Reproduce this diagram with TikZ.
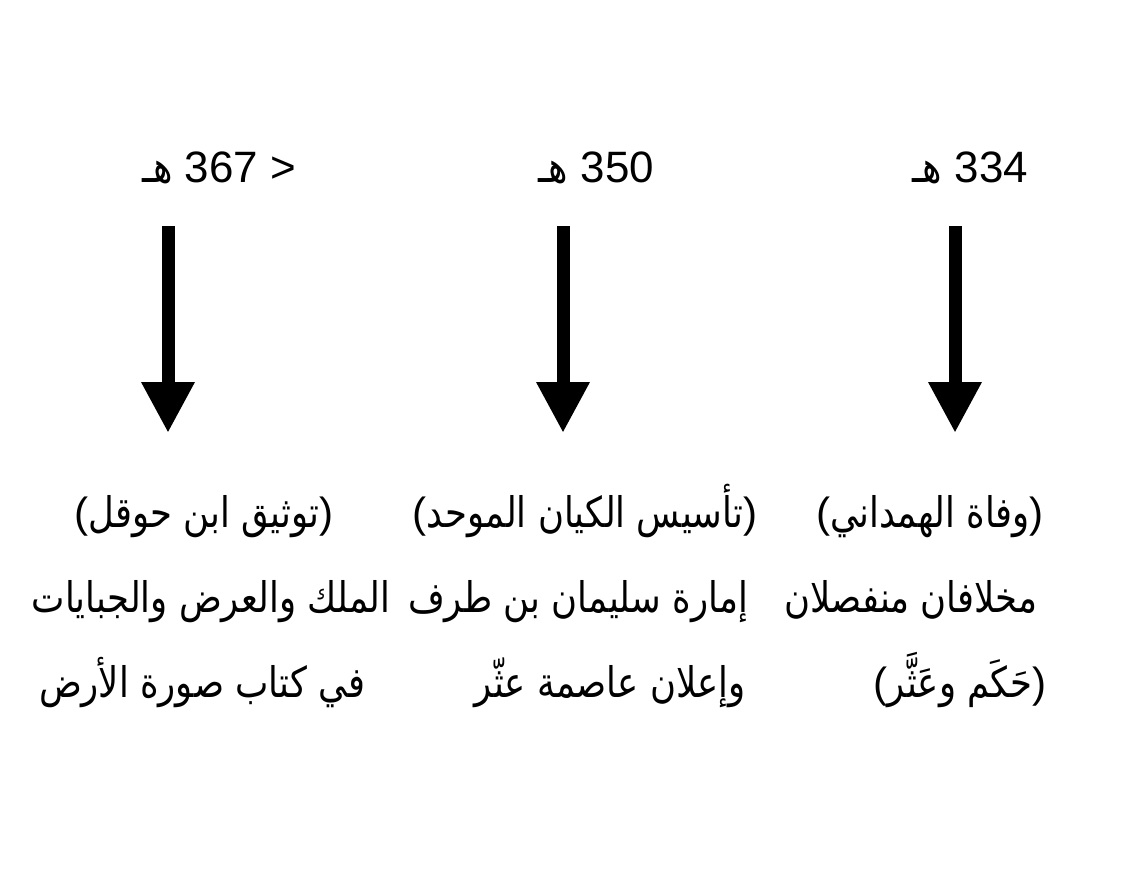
\documentclass[tikz,border=0pt]{standalone}
\usepackage{fontspec}
\setmainfont{Liberation Sans}
\newfontfamily\arabicfont[Script=Arabic,FakeStretch=0.84]{DejaVu Sans}
\TeXXeTstate=1
\usetikzlibrary{arrows.meta}
\tikzset{
  yearlabel/.style = {inner sep=0pt, anchor=base, font=\fontsize{25}{30}\selectfont},
  eventline/.style = {inner sep=0pt, anchor=base, font=\arabicfont\fontsize{24}{28}\selectfont},
  datearrow/.style = {line width=7.4pt, -{Triangle[width=28.3pt,length=28.9pt]}},
}
\newcommand{\lpar}{{\normalfont(}}
\newcommand{\rpar}{{\normalfont)}}
\newcommand{\hijri}{\beginR{\arabicfont هـ}\endR}

\begin{document}
\begin{tikzpicture}
  [
    x = 0.02cm,
    y = -0.02cm
  ]
  \useasboundingbox (0,0) rectangle (1125,876);
  \node [yearlabel] (year367) at (219,182) {\hijri\ 367 >};
  \node [yearlabel] (year350) at (596,182) {\hijri\ 350};
  \node [yearlabel] (year334) at (970,182) {\hijri\ 334};
  \coordinate (top367) at (168,226);
  \coordinate (tip367) at (168,433);
  \coordinate (top350) at (563,226);
  \coordinate (tip350) at (563,433);
  \coordinate (top334) at (955,226);
  \coordinate (tip334) at (955,433);
  \draw [datearrow] (top367) -- (tip367);
  \draw [datearrow] (top350) -- (tip350);
  \draw [datearrow] (top334) -- (tip334);
  \node [eventline] (hawqal) at (204,527) {\lpar\beginR توثيق ابن حوقل\endR\rpar};
  \node [eventline] (mulk) at (211,612) {\beginR الملك والعرض والجبايات\endR};
  \node [eventline] (kitab) at (202,697) {\beginR في كتاب صورة الأرض\endR};
  \node [eventline] (kayan) at (585,527) {\lpar\beginR تأسيس الكيان الموحد\endR\rpar};
  \node [eventline] (imara) at (578,612) {\beginR إمارة سليمان بن طرف\endR};
  \node [eventline] (asima) at (610,697) {\beginR وإعلان عاصمة عثّر\endR};
  \node [eventline] (wafat) at (930,527) {\lpar\beginR وفاة الهمداني\endR\rpar};
  \node [eventline] (mikhlaf) at (911,612) {\beginR مخلافان منفصلان\endR};
  \node [eventline] (hakam) at (960,697) {\lpar\beginR حَكَم وعَثَّر\endR\rpar};
\end{tikzpicture}
\end{document}
